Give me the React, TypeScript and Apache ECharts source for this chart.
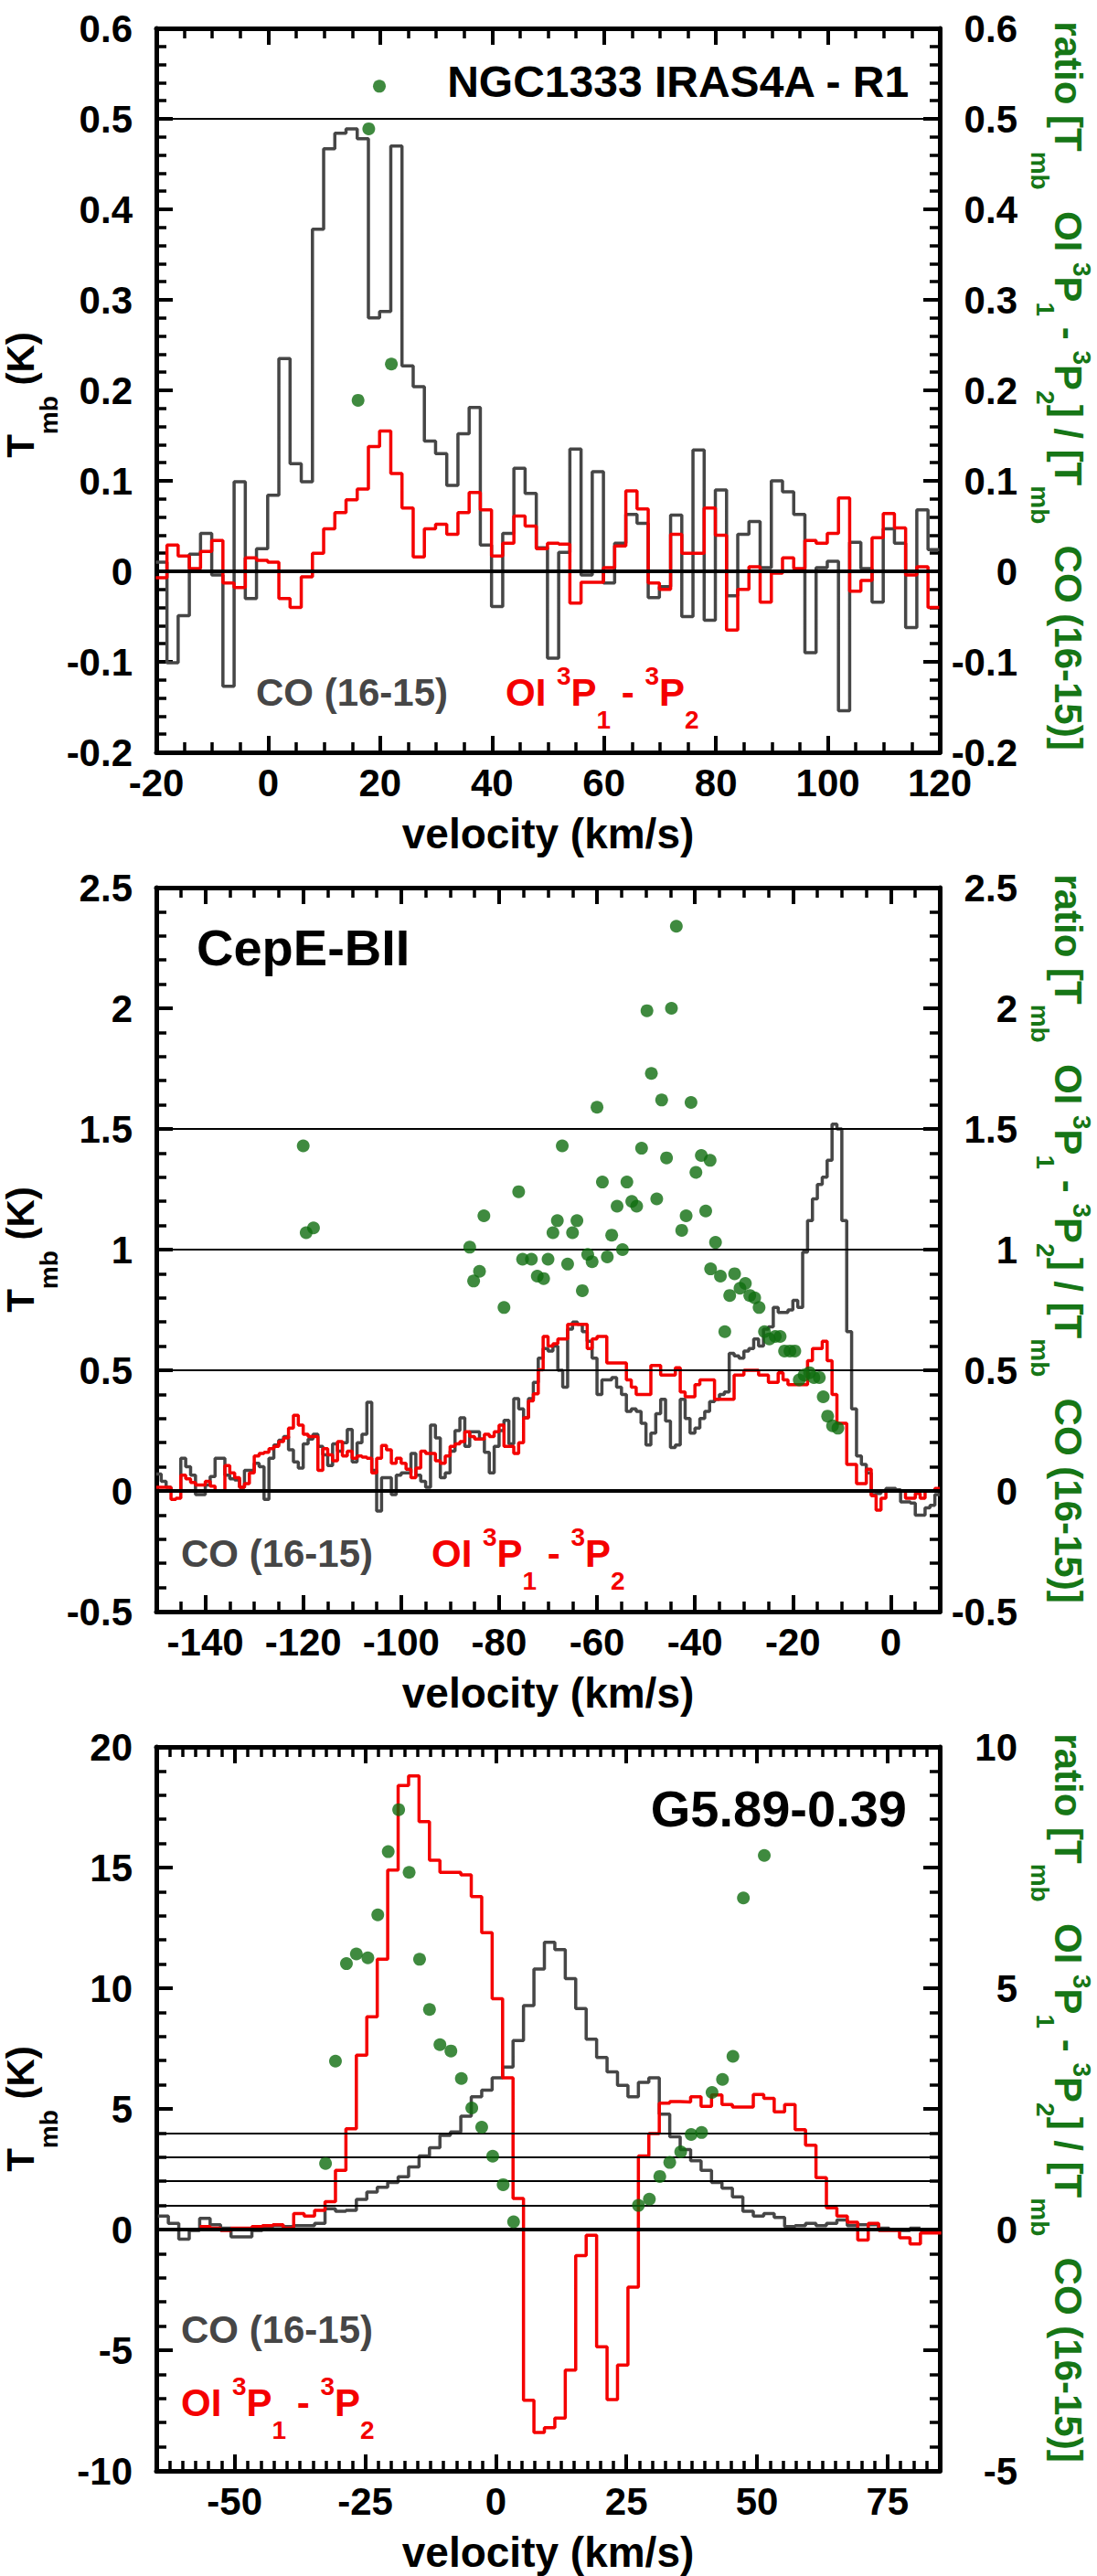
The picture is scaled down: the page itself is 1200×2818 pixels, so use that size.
import React, { useEffect, useRef } from 'react';
import * as echarts from 'echarts';

const FONT = 'Arial, "Liberation Sans", Helvetica, sans-serif';
const CO_COLOR = '#464646';
const OI_COLOR = '#f40000';
const RATIO_COLOR = '#0f6d0f';
const TITLE_GREEN = '#167616';

// ---------- NGC1333 IRAS4A - R1 (2 km/s channels) ----------
const ngcStart = -20.1; // left edge of the first channel
const ngcWidth = 2;
const ngcCO = [
  0.01, -0.101, -0.049, 0.019, 0.042, -0.004, -0.127, 0.099, -0.03, 0.025,
  0.084, 0.235, 0.119, 0.099, 0.378, 0.467, 0.484, 0.489, 0.478, 0.28,
  0.287, 0.47, 0.227, 0.204, 0.144, 0.13, 0.095, 0.152, 0.181, 0.029,
  -0.039, 0.042, 0.114, 0.086, 0.026, -0.096, 0.021, 0.135, -0.004, 0.11,
  -0.013, 0.031, 0.063, 0.053, -0.029, -0.017, 0.062, -0.05, 0.134, -0.054,
  0.09, -0.027, 0.041, 0.055, 0.004, 0.1, 0.088, 0.063, -0.09, 0.004,
  0.011, -0.154, 0.032, 0.003, -0.034, 0.047, 0.031, -0.062, 0.068, 0.024,
];
const ngcOI = [
  -0.007, 0.029, 0.017, 0.003, 0.022, 0.034, -0.013, -0.018, 0.015, 0.012,
  0.01, -0.03, -0.04, -0.006, 0.02, 0.047, 0.065, 0.079, 0.091, 0.138,
  0.155, 0.108, 0.07, 0.016, 0.047, 0.052, 0.041, 0.065, 0.087, 0.068,
  0.017, 0.031, 0.061, 0.05, 0.025, 0.031, 0.03, -0.035, -0.012, -0.012,
  0.004, 0.028, 0.089, 0.069, -0.013, -0.02, 0.041, 0.02, 0.02, 0.07,
  0.04, -0.065, -0.02, 0.005, -0.034, -0.002, 0.015, 0.003, 0.034, 0.031,
  0.042, 0.081, -0.022, -0.01, 0.037, 0.064, 0.048, -0.004, 0.005, -0.04,
];
const ngcRatio = [
  [16.05, 0.189], [17.96, 0.489], [19.86, 0.536], [22.0, 0.229],
];
const ngcRatioLines = [0.5];
const ngcXTicks = [-20, 0, 20, 40, 60, 80, 100, 120];

// ---------- CepE-BII (1 km/s channels) ----------
const cepStart = -150;
const cepWidth = 1;
const cepCO = [
  0.07, 0.04, 0.015, 0.0, 0.0, 0.135, 0.1, 0.065, -0.015, -0.015,
  0.025, 0.06, 0.135, 0.135, 0.065, 0.05, 0.045, 0.015, 0.085, 0.085,
  0.115, 0.1, -0.035, 0.135, 0.19, 0.21, 0.225, 0.17, 0.12, 0.095,
  0.195, 0.215, 0.235, 0.185, 0.15, 0.105, 0.195, 0.165, 0.2, 0.255,
  0.12, 0.2, 0.235, 0.367, 0.085, -0.083, 0.055, 0.055, -0.015, 0.065,
  0.075, 0.075, 0.155, 0.065, 0.04, 0.015, 0.273, 0.22, 0.055, 0.075,
  0.165, 0.25, 0.303, 0.185, 0.245, 0.245, 0.215, 0.16, 0.075, 0.185,
  0.25, 0.293, 0.195, 0.383, 0.34, 0.303, 0.383, 0.45, 0.55, 0.59,
  0.58, 0.6, 0.5, 0.43, 0.67, 0.7, 0.69, 0.66, 0.62, 0.55,
  0.4, 0.46, 0.46, 0.47, 0.43, 0.4, 0.33, 0.34, 0.33, 0.28,
  0.19, 0.24, 0.32, 0.38, 0.29, 0.18, 0.19, 0.38, 0.3, 0.24,
  0.26, 0.3, 0.33, 0.37, 0.38, 0.4, 0.41, 0.57, 0.56, 0.55,
  0.58, 0.59, 0.63, 0.6, 0.67, 0.68, 0.76, 0.74, 0.74, 0.75,
  0.79, 0.76, 0.99, 1.12, 1.21, 1.27, 1.3, 1.37, 1.52, 1.5,
  1.12, 0.66, 0.34, 0.145, 0.11, 0.075, -0.015, -0.01, 0.0, 0.01,
  0.01, 0.005, -0.045, -0.045, -0.05, -0.1, -0.1, -0.07, -0.06, -0.015,
];
const cepOI = [
  0.015, 0.015, 0.015, -0.035, -0.03, 0.065, 0.05, 0.035, 0.025, 0.025,
  0.04, 0.02, 0.0, 0.0, 0.105, 0.075, 0.055, 0.015, 0.03, 0.075,
  0.145, 0.155, 0.16, 0.175, 0.185, 0.205, 0.22, 0.26, 0.313, 0.273,
  0.235, 0.225, 0.225, 0.085, 0.175, 0.15, 0.125, 0.205, 0.145, 0.165,
  0.135, 0.145, 0.14, 0.135, 0.075, 0.135, 0.188, 0.17, 0.115, 0.135,
  0.115, 0.09, 0.055, 0.095, 0.165, 0.155, 0.155, 0.125, 0.115, 0.145,
  0.185, 0.195, 0.205, 0.245, 0.225, 0.215, 0.215, 0.235, 0.225, 0.245,
  0.273, 0.185, 0.185, 0.155, 0.2, 0.303, 0.373, 0.402, 0.502, 0.64,
  0.6, 0.61, 0.63, 0.63, 0.69, 0.69, 0.69, 0.69, 0.59, 0.63,
  0.64, 0.64, 0.53, 0.53, 0.53, 0.53, 0.46, 0.43, 0.4, 0.4,
  0.4, 0.52, 0.52, 0.48, 0.48, 0.48, 0.51, 0.41, 0.39, 0.39,
  0.44, 0.46, 0.46, 0.46, 0.38, 0.38, 0.38, 0.38, 0.48, 0.48,
  0.5, 0.5, 0.5, 0.48, 0.48, 0.45, 0.45, 0.49, 0.46, 0.44,
  0.44, 0.44, 0.44, 0.54, 0.59, 0.59, 0.62, 0.54, 0.4, 0.28,
  0.28, 0.11, 0.11, 0.03, 0.03, 0.09, -0.02, -0.08, -0.03, 0.0,
  0.0, 0.0, 0.0, -0.03, -0.03, -0.01, -0.03, 0.0, 0.0, 0.01,
];
const cepRatio = [
  [-120.0, 1.43], [-119.4, 1.07], [-117.9, 1.09], [-86.0, 1.01], [-85.2, 0.87],
  [-84.0, 0.91], [-83.1, 1.14], [-79.0, 0.76], [-76.0, 1.24], [-75.2, 0.96],
  [-73.4, 0.96], [-72.2, 0.89], [-70.9, 0.88], [-70.0, 0.96], [-69.0, 1.07],
  [-68.1, 1.12], [-67.1, 1.43], [-66.0, 0.94], [-65.0, 1.07], [-64.1, 1.12],
  [-63.0, 0.83], [-61.9, 0.98], [-61.0, 0.95], [-60.0, 1.59], [-58.9, 1.28],
  [-57.9, 0.97], [-57.0, 1.06], [-55.9, 1.18], [-54.8, 1.0], [-53.9, 1.28],
  [-52.9, 1.2], [-51.9, 1.18], [-50.9, 1.42], [-49.8, 1.99], [-48.9, 1.73],
  [-47.8, 1.21], [-46.8, 1.62], [-45.8, 1.38], [-44.8, 2.0], [-43.8, 2.34],
  [-42.7, 1.08], [-41.8, 1.14], [-40.8, 1.61], [-39.8, 1.32], [-38.7, 1.39],
  [-37.8, 1.16], [-36.9, 1.37], [-36.8, 0.92], [-35.8, 1.03], [-34.8, 0.89],
  [-33.9, 0.66], [-32.9, 0.81], [-31.9, 0.9], [-30.8, 0.84], [-29.7, 0.86],
  [-28.8, 0.81], [-27.8, 0.8], [-26.9, 0.76], [-25.8, 0.66], [-24.8, 0.63],
  [-23.6, 0.64], [-22.6, 0.64], [-21.7, 0.58], [-20.6, 0.58], [-19.6, 0.58],
  [-18.7, 0.46], [-17.7, 0.48], [-16.6, 0.49], [-15.7, 0.47], [-14.6, 0.47],
  [-13.8, 0.39], [-12.9, 0.31], [-11.9, 0.27], [-10.8, 0.26],
];
const cepRatioLines = [0.5, 1, 1.5];
const cepXTicks = [-140, -120, -100, -80, -60, -40, -20, 0];

// ---------- G5.89-0.39 (2 km/s channels) ----------
const gCOStart = -64.7;
const gOIStart = -56.7;
const gWidth = 2;
const gCO = [
  0.56, 0.26, -0.4, -0.04, 0.46, 0.2, 0.06, -0.3, -0.3, -0.04,
  0.1, 0.16, 0.12, 0.16, 0.16, 0.26, 0.86, 0.76, 0.8, 1.25,
  1.55, 1.75, 1.95, 2.19, 2.59, 3.05, 3.39, 3.9, 4.04, 4.7,
  5.5, 5.78, 6.29, 6.73, 7.83, 9.28, 10.8, 11.9, 11.6, 10.4,
  9.16, 7.89, 7.13, 6.53, 5.98, 5.5, 6.1, 6.29, 4.78, 3.84,
  3.31, 2.85, 2.45, 1.95, 1.71, 1.35, 0.76, 0.56, 0.66, 0.5,
  0.12, 0.16, 0.26, 0.16, 0.26, 0.4, 0.16, 0.2, 0.2, 0.06,
  0.0, -0.04, 0.06,
];
const gOI = [
  0.12, 0.06, -0.04, 0.06, 0.06, 0.12, 0.16, 0.2, 0.06, 0.66,
  0.56, 0.8, 1.16, 2.45, 4.18, 7.23, 8.82, 11.2, 14.9, 18.4,
  18.8, 16.9, 15.3, 14.8, 14.8, 14.7, 13.8, 12.3, 9.56, 6.29,
  1.29, -7.07, -8.41, -8.21, -7.81, -5.82, -1.08, -0.24, -4.86, -7.05,
  -5.62, -2.39, 3.05, 3.98, 5.24, 5.3, 5.28, 5.5, 5.1, 5.58,
  5.18, 5.08, 5.08, 5.6, 5.44, 4.88, 5.18, 4.14, 3.49, 2.15,
  0.9, 0.56, 0.3, -0.44, 0.26, -0.04, -0.04, -0.34, -0.6, -0.14,
  -0.14,
];
const gRatio = [
  [-32.6, 1.37], [-30.7, 3.49], [-28.6, 5.51], [-26.7, 5.71], [-24.5, 5.63],
  [-22.6, 6.52], [-20.6, 7.83], [-18.6, 8.7], [-16.6, 7.4], [-14.6, 5.6],
  [-12.7, 4.56], [-10.7, 3.83], [-8.6, 3.7], [-6.6, 3.13], [-4.6, 2.52],
  [-2.7, 2.12], [-0.6, 1.52], [1.4, 0.93], [3.4, 0.16], [27.3, 0.5],
  [29.4, 0.63], [31.4, 1.1], [33.3, 1.39], [35.4, 1.61], [37.4, 1.97],
  [39.4, 2.01], [41.4, 2.84], [43.4, 3.11], [45.4, 3.59], [47.4, 6.87],
  [51.4, 7.75],
];
const gRatioLines = [0.5, 1, 1.5, 2];
const gXTicks = [-50, -25, 0, 25, 50, 75];

const panels = [
  {
    xMin: -20, xMax: 120, xTicks: ngcXTicks, xMinor: 5,
    yMin: -0.2, yMax: 0.6, yStep: 0.1, yMinor: 0.02,
    rMin: -0.2, rMax: 0.6, rStep: 0.1, rLabelStep: 0.1,
    co: { start: ngcStart, width: ngcWidth, values: ngcCO },
    oi: { start: ngcStart, width: ngcWidth, values: ngcOI },
    ratio: ngcRatio, lines: ngcRatioLines,
  },
  {
    xMin: -150, xMax: 10, xTicks: cepXTicks, xMinor: 5,
    yMin: -0.5, yMax: 2.5, yStep: 0.5, yMinor: 0.1,
    rMin: -0.5, rMax: 2.5, rStep: 0.5, rLabelStep: 0.5,
    co: { start: cepStart, width: cepWidth, values: cepCO },
    oi: { start: cepStart, width: cepWidth, values: cepOI },
    ratio: cepRatio, lines: cepRatioLines,
  },
  {
    xMin: -65, xMax: 85, xTicks: gXTicks, xMinor: 2.5,
    yMin: -10, yMax: 20, yStep: 5, yMinor: 1,
    rMin: -5, rMax: 10, rStep: 2.5, rLabelStep: 5,
    co: { start: gCOStart, width: gWidth, values: gCO },
    oi: { start: gOIStart, width: gWidth, values: gOI },
    ratio: gRatio, lines: gRatioLines,
  },
];

// layout (pixels)
const GRID_LEFT = 171;
const GRID_WIDTH = 857;
const GRID_HEIGHT = 792;
const PANEL_TOPS = [31, 971, 1911];
const MAJOR_LEN = 18;
const MINOR_LEN = 11;

const labelStyle = { fontSize: 42, fontWeight: 'bold', color: '#000', fontFamily: FONT };

function steps(start: number, width: number, values: number[]) {
  const pts = values.map((v, i) => [start + i * width, v]);
  pts.push([start + values.length * width, values[values.length - 1]]);
  return pts;
}

function tickRange(a: number, b: number, step: number) {
  const out: number[] = [];
  const n = Math.round((b - a) / step);
  for (let i = 0; i <= n; i++) out.push(Math.round((a + i * step) * 1000) / 1000);
  return out;
}

const isIn = (list: number[], v: number) => list.some((t) => Math.abs(t - v) < 1e-6);

// inward ticks on all four sides (majors carry labels), as the axes' own tick marks
function buildXAxes(k: number, p: any) {
  const minors = tickRange(p.xMin, p.xMax, p.xMinor).filter((v) => !isIn(p.xTicks, v));
  const base = {
    type: 'value', gridIndex: k, min: p.xMin, max: p.xMax, splitLine: { show: false },
  };
  const frame = { show: true, onZero: false, lineStyle: { color: '#000', width: 5 } };
  const major = { show: true, inside: true, length: MAJOR_LEN, customValues: p.xTicks, lineStyle: { color: '#000', width: 4 } };
  const minor = { show: true, inside: true, length: MINOR_LEN, customValues: minors, lineStyle: { color: '#000', width: 3.5 } };
  return [
    {
      ...base, position: 'bottom', axisLine: frame, axisTick: major,
      axisLabel: { show: true, customValues: p.xTicks, margin: 12, ...labelStyle },
      name: 'velocity (km/s)', nameLocation: 'middle', nameGap: 66, nameMoveOverlap: false,
      nameTextStyle: { fontSize: 46, fontWeight: 'bold', color: '#000', fontFamily: FONT },
    },
    { ...base, position: 'top', axisLine: frame, axisTick: major, axisLabel: { show: false } },
    { ...base, position: 'bottom', axisLine: { show: false, onZero: false }, axisTick: minor, axisLabel: { show: false } },
    { ...base, position: 'top', axisLine: { show: false, onZero: false }, axisTick: minor, axisLabel: { show: false } },
  ];
}

function buildYAxes(k: number, p: any) {
  const common = (position: string) => ({
    type: 'value', gridIndex: k, position, splitLine: { show: false },
    axisLine: { show: true, onZero: false, lineStyle: { color: '#000', width: 5 } },
    axisTick: { show: true, inside: true, length: MAJOR_LEN, lineStyle: { color: '#000', width: 4 } },
    minorTick: { show: true, splitNumber: 5, length: MINOR_LEN, lineStyle: { color: '#000', width: 3.5 } },
    minorSplitLine: { show: false },
  });
  return [
    { ...common('left'), min: p.yMin, max: p.yMax, interval: p.yStep, axisLabel: { margin: 26, ...labelStyle } },
    {
      ...common('right'), min: p.rMin, max: p.rMax, interval: p.rStep,
      axisLabel: {
        margin: 85, align: 'right', ...labelStyle,
        formatter: (v: number) => {
          const q = v / p.rLabelStep;
          return Math.abs(q - Math.round(q)) < 1e-6 ? String(Math.round(v * 100) / 100) : '';
        },
      },
    },
  ];
}

function buildSeries(k: number, p: any) {
  return [
    {
      type: 'line', xAxisIndex: 4 * k, yAxisIndex: 2 * k, data: steps(p.co.start, p.co.width, p.co.values),
      step: 'end', symbol: 'none', z: 2, lineStyle: { color: CO_COLOR, width: 3.5 }, silent: true,
    },
    {
      type: 'line', xAxisIndex: 4 * k, yAxisIndex: 2 * k, data: steps(p.oi.start, p.oi.width, p.oi.values),
      step: 'end', symbol: 'none', z: 3, lineStyle: { color: OI_COLOR, width: 3.5 }, silent: true,
    },
    {
      type: 'scatter', xAxisIndex: 4 * k, yAxisIndex: 2 * k + 1, data: p.ratio, symbol: 'circle',
      symbolSize: 14, z: 5, itemStyle: { color: RATIO_COLOR }, silent: true,
      markLine: {
        silent: true, symbol: 'none', label: { show: false },
        data: [
          { yAxis: 0, lineStyle: { color: '#000', width: 4, type: 'solid' } },
          ...p.lines.map((v: number) => ({ yAxis: v, lineStyle: { color: '#000', width: 2, type: 'solid' } })),
        ],
      },
    },
  ];
}

// ---------- texts with sub- and superscripts, laid out piece by piece ----------
let measureCtx: CanvasRenderingContext2D | null = null;
function textWidth(str: string, size: number) {
  if (!measureCtx) measureCtx = document.createElement('canvas').getContext('2d');
  measureCtx!.font = `bold ${size}px ${FONT}`;
  return measureCtx!.measureText(str).width;
}

type Piece = [string, number, number]; // text, font size, shift along the text's "down" direction

function pieces(x: number, y: number, parts: Piece[], color: string, anchor = 'left', rotation = 0) {
  const widths = parts.map(([t, s]) => textWidth(t, s));
  const total = widths.reduce((a, b) => a + b, 0);
  let pos = anchor === 'center' ? -total / 2 : anchor === 'right' ? -total : 0;
  const ax = Math.cos(rotation), ay = -Math.sin(rotation); // reading direction on screen
  const dx = Math.sin(rotation), dy = Math.cos(rotation); // "down" direction on screen
  return parts.map(([t, s, shift], i) => {
    const el = {
      type: 'text', silent: true, rotation,
      x: x + ax * pos + dx * shift, y: y + ay * pos + dy * shift,
      style: {
        text: t, fill: color, font: `bold ${s}px ${FONT}`, fontSize: s, fontWeight: 'bold', fontFamily: FONT,
        align: 'left', verticalAlign: 'middle', textAlign: 'left', textVerticalAlign: 'middle',
      },
    };
    pos += widths[i];
    return el;
  });
}

const M = 42; // main size
const S = 28; // script size
const oiParts: Piece[] = [['OI ', M, 0], ['3', S, -18], ['P', M, 0], ['1', S, 30], [' - ', M, 0], ['3', S, -18], ['P', M, 0], ['2', S, 30]];
const ratioParts: Piece[] = [
  ['ratio [T', M, 0], ['mb', S, 31], ['  OI ', M, 0], ['3', S, -15], ['P', M, 0], ['1', S, 25],
  [' - ', M, 0], ['3', S, -15], ['P', M, 0], ['2', S, 25], ['] / [T', M, 0], ['mb', S, 31], ['  CO (16-15)]', M, 0],
];
const tParts: Piece[] = [['T', M, 0], ['mb', S, 31], [' (K)', M, 0]];

const leftTitleY = [432, 1367, 2307];
const rightTitleY = [422, 1355, 2295];

function textGraphics() {
  return [
    ...pieces(996, 89, [['NGC1333 IRAS4A - R1', 48, 0]], '#000', 'right'),
    ...pieces(215, 1036, [['CepE-BII', 56, 0]], '#000'),
    ...pieces(992, 1978, [['G5.89-0.39', 56, 0]], '#000', 'right'),
    ...pieces(280, 757, [['CO (16-15)', M, 0]], CO_COLOR),
    ...pieces(553, 757, oiParts, OI_COLOR),
    ...pieces(198, 1699, [['CO (16-15)', M, 0]], CO_COLOR),
    ...pieces(472, 1699, oiParts, OI_COLOR),
    ...pieces(198, 2548, [['CO (16-15)', M, 0]], CO_COLOR),
    ...pieces(198, 2628, oiParts, OI_COLOR),
    ...leftTitleY.flatMap((y) => pieces(22, y, tParts, '#000', 'center', Math.PI / 2)),
    ...rightTitleY.flatMap((y) => pieces(1168, y, ratioParts, TITLE_GREEN, 'center', -Math.PI / 2)),
  ];
}

export default function App() {
  const ref = useRef<HTMLDivElement | null>(null);

  useEffect(() => {
    if (!ref.current) return;
    const chart = echarts.init(ref.current, undefined, { renderer: 'svg' });
    chart.setOption({
      animation: false,
      backgroundColor: '#fff',
      textStyle: { fontFamily: FONT },
      grid: PANEL_TOPS.map((top) => ({
        left: GRID_LEFT, top, width: GRID_WIDTH, height: GRID_HEIGHT, containLabel: false, outerBoundsMode: 'none',
      })),
      xAxis: panels.flatMap((p, k) => buildXAxes(k, p)),
      yAxis: panels.flatMap((p, k) => buildYAxes(k, p)),
      series: panels.flatMap((p, k) => buildSeries(k, p)),
      graphic: textGraphics(),
    });
    return () => { chart.dispose(); };
  }, []);

  return <div ref={ref} style={{ position: 'absolute', left: 0, top: 0, width: 1200, height: 2818 }} />;
}
